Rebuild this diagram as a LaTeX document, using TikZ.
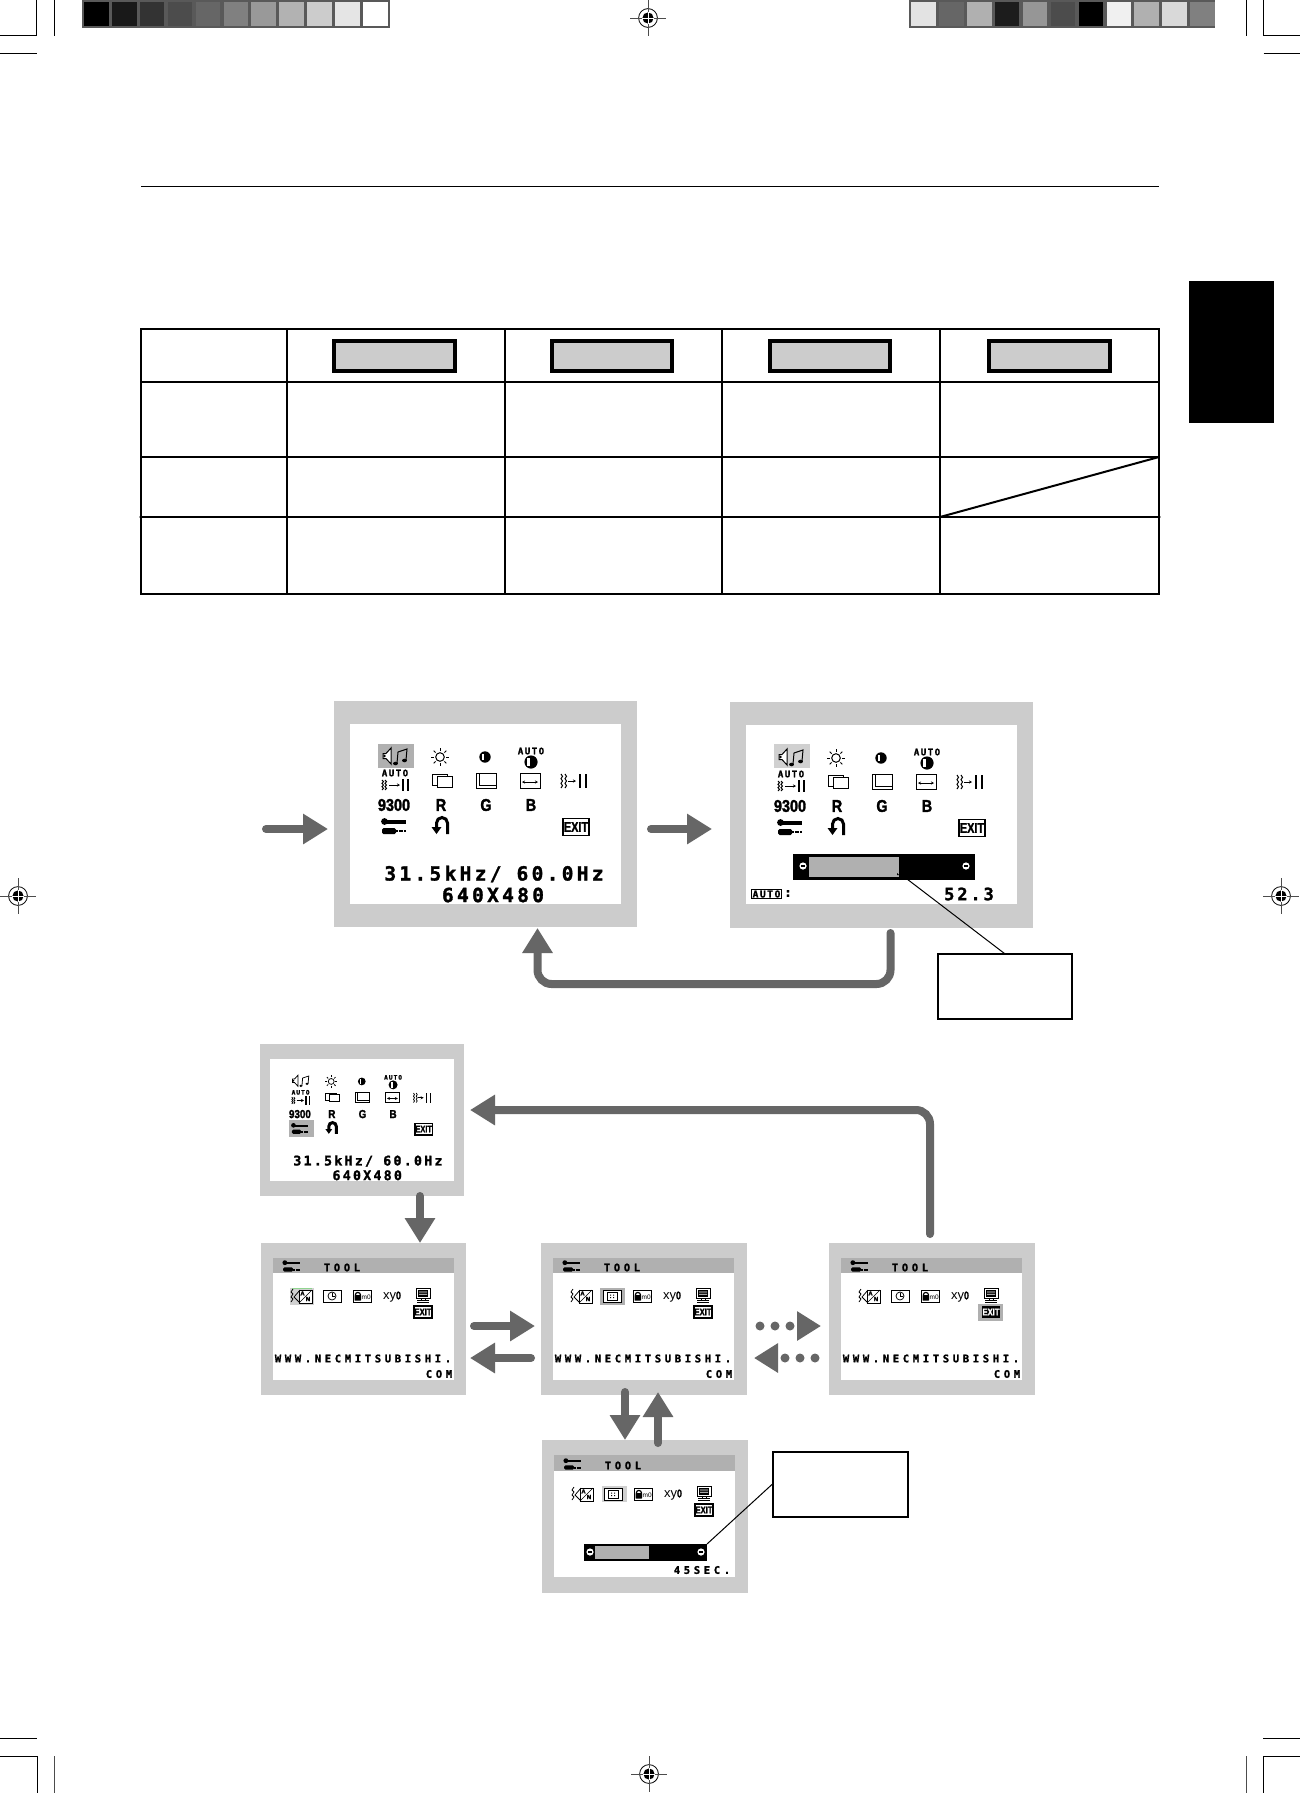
\documentclass[tikz,border=0pt]{standalone}
\usepackage{graphicx}
\usepackage{fontspec}
\usetikzlibrary{arrows.meta}
\newfontfamily\osdA[LetterSpace=17,BoldFeatures={FakeBold=1.5}]{DejaVu Sans Mono}
\newfontfamily\osdB[LetterSpace=35,BoldFeatures={FakeBold=1.5}]{DejaVu Sans Mono}
\newfontfamily\icf[BoldFeatures={FakeBold=2}]{Liberation Sans}
\definecolor{arrowgray}{HTML}{666666}
\definecolor{screengray}{HTML}{CCCCCC}
\definecolor{hidark}{HTML}{B0B0B0}
\definecolor{hilite}{HTML}{D0D0D0}
\definecolor{barframe}{HTML}{595959}
\def\ilw{1pt}
\def\pfx{m}
\tikzset{
  lbl/.style={inner sep=0pt,outer sep=0pt,anchor=center},
  iconline/.style={draw=black,line width=\ilw},
  screen/.style={fill=screengray,draw=none,inner sep=0pt,outer sep=0pt},
  rule/.style={draw=black,line width=2pt},
  thinrule/.style={draw=black,line width=1pt},
  callbox/.style={draw=black,line width=2pt,fill=white,inner sep=0pt,outer sep=0pt},
  bigarrow/.style={draw=arrowgray,line width=8pt,line cap=round,
    -{Triangle[length=25pt,width=29pt]}},
  dotarrow/.style={draw=arrowgray,line width=9pt,line cap=round,dash pattern=on 0pt off 15pt,
    -{Triangle[length=24pt,width=28pt]}},
  calline/.style={draw=black,line width=1pt},
}
% ---- icon helpers (local pixel coordinates) ----
\newcommand\waves[4]{% x1 x2 y halfheight
  \foreach \wx in {#1,#2}{
    \draw[iconline] (\wx,#3-#4) -- ++(1.5,#4/3) -- ++(-1.5,#4/3) -- ++(1.5,#4/3) -- ++(-1.5,#4/3) -- ++(1.5,#4/3) -- ++(-1.5,#4/3);
  }}
\newcommand\iconspeaker[2]{\begin{scope}[shift={(#1,#2)}]
  \draw[iconline,fill=white] (-13,-2.5) -- (-10,-2.5) -- (-5,-8) -- (-5,8) -- (-10,2.5) -- (-13,2.5) -- cycle;
  \fill (-11.5,0) circle (1.4);
  \draw[iconline] (1,7) -- (2,-4) -- (11,-7) -- (10,4);
  \fill (-.5,7.5) ellipse (2.4 and 1.8);
  \fill (8.5,4.5) ellipse (2.4 and 1.8);
\end{scope}}
\newcommand\iconsun[2]{\begin{scope}[shift={(#1,#2)}]
  \draw[iconline] (0,0) circle (4.3);
  \foreach \a in {0,45,...,315}{\draw[iconline] (\a:6.2) -- (\a:9);}
\end{scope}}
\newcommand\icondisc[3]{\begin{scope}[shift={(#1,#2)}]
  \fill (0,0) circle (#3);
  \fill[white] (-.55*#3,-.6*#3) rectangle (-.1*#3,.6*#3);
\end{scope}}
\newcommand\iconrectA[2]{\begin{scope}[shift={(#1,#2)}]
  \draw[iconline,fill=white] (-10,-7) rectangle (5,4);
  \draw[iconline,fill=white] (-5,-5) rectangle (10,6);
\end{scope}}
\newcommand\iconrectB[2]{\begin{scope}[shift={(#1,#2)}]
  \draw[iconline,fill=white] (-10,-8) rectangle (10,7);
  \draw[iconline] (-7,-8) -- (-7,4) -- (10,4);
\end{scope}}
\newcommand\iconhsize[2]{\begin{scope}[shift={(#1,#2)}]
  \draw[iconline,fill=white] (-10,-8) rectangle (10,7);
  \draw[line width=.7pt,{Stealth[length=3pt,width=3pt]}-{Stealth[length=3pt,width=3pt]}] (-8,1) -- (8,1);
\end{scope}}
\newcommand\iconwaveA[2]{\begin{scope}[shift={(#1,#2)}]
  \waves{-13}{-10}{0}{5}
  \draw[iconline,-{Stealth[length=3pt,width=3pt]}] (-6,0) -- (5,0);
  \draw[line width=1.6pt] (8,-6) -- (8,6) (13,-6) -- (13,6);
\end{scope}}
\newcommand\iconwaveB[2]{\begin{scope}[shift={(#1,#2)}]
  \waves{-14}{-10}{0}{7}
  \draw[iconline,-{Stealth[length=3pt,width=3pt]}] (-7,0) -- (1,0);
  \draw[line width=1.6pt] (5,-7) -- (5,7) (11,-7) -- (11,7);
\end{scope}}
\newcommand\iconwrench[2]{\begin{scope}[shift={(#1,#2)}]
  \fill (-9.5,-4.5) circle (3.4);
  \fill (-10,-5.6) rectangle (12,-2.2);
  \fill[rounded corners=1.5pt] (-12,2) rectangle (2,8);
  \draw[line width=2.2pt,dash pattern=on 2pt off .6pt] (2,5.2) -- (12,5.2);
\end{scope}}
\newcommand\iconundo[2]{\begin{scope}[shift={(#1,#2)}]
  \draw[line width=3pt] (7.5,8) -- (7.5,-3) arc (0:-180:5.5) -- (-3.5,1);
  \fill (-8.5,1) -- (1.5,1) -- (-3.5,8) -- cycle;
\end{scope}}
\newcommand\iconexit[4]{% x y scale inverted-colour
  \begin{scope}[shift={(#1,#2)},scale=#3,transform shape]
  \draw[draw=black,line width=1.4pt,fill=white] (-13,-8.5) rectangle (13,8.5);
  \node[lbl,text=black] (\pfx-exit) at (0,0) {\icf\bfseries\fontsize{14}{14}\selectfont\scalebox{.78}[1]{EXIT}};
  \end{scope}}
\newcommand\iconexitinv[3]{%
  \begin{scope}[shift={(#1,#2)},scale=#3,transform shape]
  \fill[black] (-13,-8.5) rectangle (13,8.5);
  \node[lbl,text=white] (\pfx-exit) at (0,0) {\icf\bfseries\fontsize{14}{14}\selectfont\scalebox{.78}[1]{EXIT}};
  \end{scope}}
\newcommand\bold[3]{\node[lbl] (\pfx-#3) at (#1,#2) {\icf\bfseries\fontsize{17}{17}\selectfont\scalebox{.85}[1]{#3}};}
% ---- main OSD menu ----
\newcommand\osdmenu{%
  \iconspeaker{46}{32}
  \iconsun{90}{33}
  \icondisc{135}{33}{5.7}
  \node[lbl] (\pfx-auto1) at (181,27) {\osdA\bfseries\fontsize{9}{9}\selectfont AUTO};
  \icondisc{181}{38}{6.6}
  \node[lbl] (\pfx-auto2) at (45,49) {\osdA\bfseries\fontsize{9}{9}\selectfont AUTO};
  \iconwaveA{45}{61}
  \iconrectA{92}{57}
  \iconrectB{136}{57}
  \iconhsize{180}{57}
  \iconwaveB{225}{57}
  \bold{44}{81}{9300}
  \bold{91}{81}{R}
  \bold{136}{81}{G}
  \bold{181}{81}{B}
  \iconwrench{44}{102}
  \iconundo{90}{102}
  \iconexit{226}{103}{1}{}
}
% ---- tool screen icons ----
\newcommand\icontext[2]{\begin{scope}[shift={(#1,#2)}]
  \draw[iconline] (-9,-7) -- (-11,-4) -- (-9,-2) -- (-11,1) -- (-9,3) -- (-11,6);
  \draw[iconline] (-2,-6) -- (-8,1) -- (-3,6);
  \draw[iconline,fill=white] (-3,-6) rectangle (10,7);
  \draw[line width=.5pt] (-3,7) -- (10,-6);
  \node[lbl] (\pfx-ta) at (0.5,-2.6) {\icf\bfseries\fontsize{6}{6}\selectfont A};
  \node[lbl] (\pfx-tn) at (6,3) {\icf\bfseries\fontsize{6}{6}\selectfont N};
\end{scope}}
\newcommand\iconclock[2]{\begin{scope}[shift={(#1,#2)}]
  \draw[iconline,fill=white] (-9,-6) rectangle (9,6);
  \draw[iconline] (0,0) circle (4);
  \draw[iconline] (0,-3) -- (0,0) -- (3,0);
\end{scope}}
\newcommand\iconclockB[2]{\begin{scope}[shift={(#1,#2)}]
  \draw[iconline,fill=white] (-9,-6) rectangle (9,6);
  \draw[iconline] (-5,-4) rectangle (5,4);
  \fill (-2,-1.5) rectangle (-.8,-.3) (1,-1.5) rectangle (2.2,-.3) (-2,1) rectangle (-.8,2.2) (1,1) rectangle (2.2,2.2);
\end{scope}}
\newcommand\iconlock[2]{\begin{scope}[shift={(#1,#2)}]
  \draw[iconline,fill=white] (-9,-6) rectangle (9,6);
  \draw[line width=1.2pt] (-6.7,-1) arc (180:360:2.6);
  \fill[rounded corners=.6pt] (-7.5,-1) rectangle (-.8,4.6);
  \node[lbl] (\pfx-lk) at (4.2,.8) {\icf\fontsize{6.5}{6.5}\selectfont m0};
\end{scope}}
\newcommand\iconxy[2]{
  \node[lbl] (\pfx-xy) at (#1-2.5,#2+1) {\icf\fontsize{13}{13}\selectfont xy};
  \node[lbl] (\pfx-xz) at (#1+6.5,#2-.5) {\icf\bfseries\fontsize{11}{11}\selectfont\scalebox{.8}[1]{0}};
}
\newcommand\iconmonitor[2]{\begin{scope}[shift={(#1,#2)}]
  \draw[iconline,fill=white] (-7,-7) rectangle (7,3);
  \fill (-5,-5.5) rectangle (5,1.5);
  \fill[white] (-4,-3.5) rectangle (4,-2.7) (-4,-1.2) rectangle (4,-.4);
  \draw[iconline] (-2,3) -- (-2,5) (2,3) -- (2,5) (-6,7) -- (6,7) (-6,5) -- (6,5);
\end{scope}}
\newcommand\toolicons[1]{%
  \begin{scope}[scale=.72,transform shape]\iconwrench{26}{11}\end{scope}
  \node[lbl] (\pfx-title) at (69,9.5) {\osdB\bfseries\fontsize{10.5}{10.5}\selectfont TOOL};
  \icontext{29}{38}
  #1
  \iconlock{89}{38}
  \iconxy{119}{38}
  \iconmonitor{150}{37}
}
\newcommand\webtext{
  \node[lbl] (\pfx-web) at (90,100.5) {\osdB\bfseries\fontsize{10.5}{10.5}\selectfont WWW.NECMITSUBISHI.};
  \node[lbl] (\pfx-com) at (166,116) {\osdB\bfseries\fontsize{10.5}{10.5}\selectfont COM};
}
\newcommand\sliderbtn[2]{\begin{scope}[shift={(#1,#2)}]
  \fill[white] (0,0) circle (3.6);
  \fill[black] (-2,-.8) rectangle (2,.8);
\end{scope}}
\newcommand\target[2]{\begin{scope}[shift={(#1,#2)}]
  \draw[line width=.8pt] (0,0) circle (9.4);
  \draw[line width=.7pt,black!70] (-18,0) -- (18,0) (0,-18) -- (0,18);
  \fill (0,0) circle (5.6);
  \draw[white,line width=.9pt] (-5.6,0) -- (5.6,0) (0,-5.6) -- (0,5.6);
\end{scope}}
\begin{document}
\begin{tikzpicture}[x=1pt,y=-1pt]
\useasboundingbox (0,0) rectangle (1300,1793);
\fill[white] (0,0) rectangle (1300,1793);
% crop marks
\draw[thinrule] (36.5,0) -- (36.5,36) -- (0,36) (0,54) -- (36.5,54) (54,0) -- (54,36);
\draw[thinrule] (1246,0) -- (1246,36) (1263.5,0) -- (1263.5,36) -- (1300,36) (1263.5,54) -- (1300,54);
\draw[thinrule] (0,1738) -- (37,1738) (0,1756) -- (37,1756) -- (37,1793);
\draw[line width=.7pt,black!70] (54,1756) -- (54,1793) (1246,1756) -- (1246,1793);
\draw[thinrule] (1300,1738) -- (1263,1738) (1300,1756) -- (1263,1756) -- (1263,1793);
% colour bars
\fill[barframe] (82,0) rectangle (389.5,28);
\foreach \n/\g in {0/100,1/90,2/80,3/70,4/60,5/50,6/40,7/30,8/20,9/10,10/0}{
  \fill[black!\g] ({84.2+27.88*\n},2) rectangle ++(24.5,24);
}
\fill[barframe] (909,0) rectangle (1215,28);
\foreach \n/\g in {0/11,1/60,2/31,3/89,4/41,5/70,6/100,7/6,8/31,9/15,10/50}{
  \fill[black!\g] ({911.2+27.9*\n},2) rectangle ++(24.5,24);
}
\target{648}{18}
\target{18}{896}
\target{1281}{896}
\target{649}{1774}
% rule and tab
\draw[thinrule] (141,186) -- (1159,186);
\fill[black] (1189,281) rectangle (1274,423);
% table
\draw[black!35,line width=2.5pt] (139,517) -- (1161,517);
\draw[rule] (141,329) rectangle (1159,594);
\draw[rule] (141,382) -- (1159,382) (141,457) -- (1159,457);
\draw[black,line width=1.1pt] (141,517) -- (1159,517);
\draw[rule] (287,329) -- (287,594) (505,329) -- (505,594) (722,329) -- (722,594) (940,329) -- (940,594);
\draw[rule] (940,517) -- (1159,457);
\foreach \xa/\xb in {334/455,552/672,770/890,989/1110}{
  \draw[draw=black,line width=4pt,fill=screengray] (\xa,341) rectangle (\xb,371);
}
% ---- upper screens ----
\node[screen,minimum width=303pt,minimum height=226pt] (s1) at (485.5,814) {};
\fill[white] (350,724) rectangle (621,904);
\fill[hidark] (378,744) rectangle (414,768);
\begin{scope}[shift={(350,724)}]
  \def\pfx{m1}\osdmenu
  \node[lbl] (s1-freq) at (144,150) {\osdA\bfseries\fontsize{19.5}{19.5}\selectfont 31.5kHz/ 60.0Hz};
  \node[lbl] (s1-res) at (143,171) {\osdA\bfseries\fontsize{19.5}{19.5}\selectfont 640X480};
\end{scope}
\node[screen,minimum width=303pt,minimum height=226pt] (s2) at (881.5,815) {};
\fill[white] (746,725) rectangle (1017,904);
\fill[hilite] (774,744) rectangle (810,768);
\begin{scope}[shift={(746,725)}]
  \def\pfx{m2}\osdmenu
\end{scope}
\node[fill=black,minimum width=182pt,minimum height=26pt,inner sep=0pt,outer sep=0pt] (sl1) at (884,867) {};
\fill[hidark] (809,857) rectangle (899,877);
\sliderbtn{803}{866}
\sliderbtn{966}{866}
\node[draw=black,line width=1.2pt,inner sep=1.2pt,outer sep=0pt] (autotag) at (766.5,894) {\osdA\fontsize{9.5}{9.5}\selectfont\bfseries AUTO};
\node[lbl] (autocolon) at (788,893.5) {\osdB\bfseries\fontsize{13}{13}\selectfont:};
\node[lbl] (autoval) at (969,894) {\osdA\bfseries\fontsize{17}{17}\selectfont 52.3};
\fill (897,873) -- (899,875) -- (897,875) -- cycle;
\coordinate (sl1hook) at (907,879);
\node[callbox,minimum width=134pt,minimum height=65pt] (c1) at (1004.5,986) {};
\draw[calline] (sl1hook) -- (c1.north);
% ---- middle menu ----
\node[screen,minimum width=204pt,minimum height=152pt] (m3) at (362,1120) {};
\fill[white] (270,1059) rectangle (454,1181);
\fill[hidark] (289,1120) rectangle (314,1137);
\begin{scope}[shift={(270,1059)},scale=.68,transform shape]
  \def\pfx{m3}\def\ilw{.75pt}\osdmenu
  \node[lbl] (m3-freq) at (144,150) {\osdA\bfseries\fontsize{19.5}{19.5}\selectfont 31.5kHz/ 60.0Hz};
  \node[lbl] (m3-res) at (143,171) {\osdA\bfseries\fontsize{19.5}{19.5}\selectfont 640X480};
\end{scope}
% ---- tool screens ----
\node[screen,minimum width=205pt,minimum height=152pt] (t1) at (363.5,1319) {};
\fill[white] (273,1258) rectangle (454,1380);
\fill[hidark] (273,1258) rectangle (454,1273);
\fill[hilite] (290,1288) rectangle (314,1305);
\draw[green!45!gray!60,line width=.8pt] (292,1288) -- (312,1288);
\begin{scope}[shift={(273,1258)}]
  \def\pfx{t1}\def\ilw{.75pt}\toolicons{\iconclock{59}{38}}\iconexit{150}{54}{.7}{}\webtext
\end{scope}
\node[screen,minimum width=206pt,minimum height=152pt] (t2) at (644,1319) {};
\fill[white] (553,1258) rectangle (734,1380);
\fill[hidark] (553,1258) rectangle (734,1273);
\fill[hidark] (600,1288) rectangle (625,1305);
\begin{scope}[shift={(553,1258)}]
  \def\pfx{t2}\def\ilw{.75pt}\toolicons{\iconclockB{59}{38}}\iconexit{150}{54}{.7}{}\webtext
\end{scope}
\node[screen,minimum width=206pt,minimum height=152pt] (t3) at (932,1319) {};
\fill[white] (841,1258) rectangle (1022,1380);
\fill[hidark] (841,1258) rectangle (1022,1273);
\fill[hidark] (978,1304) rectangle (1003,1321);
\begin{scope}[shift={(841,1258)}]
  \def\pfx{t3}\def\ilw{.75pt}\toolicons{\iconclock{59}{38}}\iconexitinv{150}{54}{.7}\webtext
\end{scope}
\node[screen,minimum width=206pt,minimum height=153pt] (t4) at (645,1516.5) {};
\fill[white] (554,1455) rectangle (735,1577);
\fill[hidark] (554,1455) rectangle (735,1471);
\fill[hilite] (602,1486) rectangle (627,1502);
\begin{scope}[shift={(554,1456)}]
  \def\pfx{t4}\def\ilw{.75pt}\toolicons{\iconclockB{59}{38}}\iconexit{150}{54}{.7}{}
  \node[lbl] (t4-sec) at (148,114) {\osdB\bfseries\fontsize{10.5}{10.5}\selectfont 45SEC.};
\end{scope}
\node[fill=black,minimum width=123pt,minimum height=17pt,inner sep=0pt,outer sep=0pt] (sl2) at (645.5,1552.5) {};
\fill[hidark] (595,1546) rectangle (649,1559);
\sliderbtn{590}{1552}
\sliderbtn{701}{1552}
\node[callbox,minimum width=135pt,minimum height=65pt] (c2) at (840,1484) {};
\draw[calline] (c2.west) -- (sl2.north east);
% ---- connectors ----
\coordinate (startin) at (266,829);
\draw[bigarrow] (startin) -- ([shift={(-6,15)}]s1.west);
\draw[bigarrow] ([shift={(14,15)}]s1.east) -- ([shift={(-18,14)}]s2.west);
\draw[bigarrow,rounded corners=14pt] ([shift={(9,5)}]s2.south) -- ++(0,51) -| ([shift={(52,1)}]s1.south);
\draw[bigarrow,rounded corners=14pt] ([shift={(-2,-9)}]t3.north) |- ([shift={(6,-10)}]m3.east);
\draw[bigarrow] ([shift={(58,0)}]m3.south) -- ([shift={(56.5,0)}]t1.north);
\draw[bigarrow] ([shift={(8,7)}]t1.east) -- ([shift={(-6,7)}]t2.west);
\draw[bigarrow] ([shift={(-10,39)}]t2.west) -- ([shift={(4,39)}]t1.east);
\draw[dotarrow] ([shift={(13,7)}]t2.east) -- ([shift={(-8,7)}]t3.west);
\draw[dotarrow] ([shift={(-14,39)}]t3.west) -- ([shift={(7,39)}]t2.east);
\draw[bigarrow] ([shift={(-19,-3)}]t2.south) -- ([shift={(-20,0)}]t4.north);
\draw[bigarrow] ([shift={(13,3)}]t4.north) -- ([shift={(14,-3)}]t2.south);
\end{tikzpicture}
\end{document}
